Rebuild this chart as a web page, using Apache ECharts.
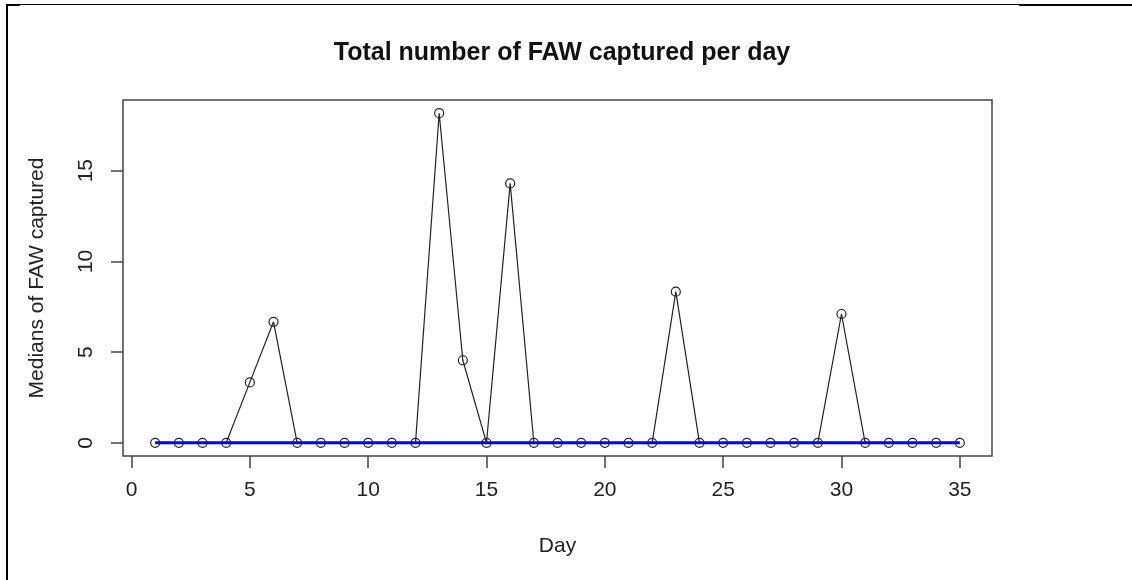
<!DOCTYPE html>
<html>
<head>
<meta charset="utf-8">
<title>Total number of FAW captured per day</title>
<script src="https://cdn.jsdelivr.net/npm/echarts@6/dist/echarts.min.js"></script>
<style>
  html, body { margin: 0; padding: 0; background: #fff; }
  #chart { width: 1132px; height: 580px; }
</style>
</head>
<body>
<div id="chart"></div>
<script>
// Trap counts: median number of FAW captured on each survey day
const days = [1,2,3,4,5,6,7,8,9,10,11,12,13,14,15,16,17,18,19,20,21,22,23,24,25,26,27,28,29,30,31,32,33,34,35];
const medians = [0,0,0,0,3.33,6.67,0,0,0,0,0,0,18.17,4.55,0,14.3,0,0,0,0,0,0,8.33,0,0,0,0,0,0,7.1,0,0,0,0,0];
// Reference line at zero over the whole survey period
const baseline = [0,0,0,0,0,0,0,0,0,0,0,0,0,0,0,0,0,0,0,0,0,0,0,0,0,0,0,0,0,0,0,0,0,0,0];
const xTicks = [0,5,10,15,20,25,30,35];
const yTicks = [0,5,10,15];

const chart = echarts.init(document.getElementById('chart'));
const font = 'Liberation Sans, Arial, sans-serif';

// R-style plotting range: data range padded by 4% on each side
function padded(lo, hi) {
  const d = (hi - lo) * 0.04;
  return [lo - d, hi + d];
}
const xr = padded(Math.min(...days), Math.max(...days));
const yr = padded(0, Math.max(...medians));

chart.setOption({
  backgroundColor: '#fff',
  animation: false,
  title: {
    text: 'Total number of FAW captured per day',
    left: 557, top: 36, textAlign: 'center',
    textStyle: { fontFamily: font, fontSize: 25, fontWeight: 'bold', color: '#111' }
  },
  grid: {
    left: 123, right: 140, top: 100, bottom: 124,
    outerBoundsMode: 'none',
    show: true, borderColor: '#444', borderWidth: 1.5, backgroundColor: 'transparent'
  },
  xAxis: {
    type: 'value', min: xr[0], max: xr[1],
    name: 'Day', nameLocation: 'middle', nameGap: 80,
    nameTextStyle: { fontFamily: font, fontSize: 21, color: '#222' },
    axisLine: { show: false, onZero: false },
    axisTick: { show: true, length: 12, customValues: xTicks, lineStyle: { color: '#444', width: 1.5 } },
    axisLabel: { customValues: xTicks, margin: 24, fontFamily: font, fontSize: 21, color: '#222' },
    splitLine: { show: false }
  },
  yAxis: {
    type: 'value', min: yr[0], max: yr[1],
    name: 'Medians of FAW captured', nameLocation: 'middle', nameGap: 75, nameRotate: 90,
    nameTextStyle: { fontFamily: font, fontSize: 21, color: '#222' },
    axisLine: { show: false, onZero: false },
    axisTick: { show: true, length: 12, customValues: yTicks, lineStyle: { color: '#444', width: 1.5 } },
    axisLabel: { customValues: yTicks, rotate: 90, margin: 26, fontFamily: font, fontSize: 21, color: '#222' },
    splitLine: { show: false }
  },
  series: [
    {
      type: 'line',
      data: days.map((d, i) => [d, medians[i]]),
      symbol: 'circle', symbolSize: 9,
      itemStyle: { color: 'rgba(0,0,0,0)', borderColor: '#222', borderWidth: 1.2 },
      lineStyle: { color: '#222', width: 1.2 },
      z: 2
    },
    {
      type: 'line',
      data: days.map((d, i) => [d, baseline[i]]),
      showSymbol: false,
      lineStyle: { color: '#0000ff', width: 3 },
      z: 3
    }
  ],
  graphic: [
    // frame around the figure
    { type: 'line', shape: { x1: 7, y1: 4, x2: 7, y2: 580 }, style: { stroke: '#000', lineWidth: 2 } },
    { type: 'line', shape: { x1: 6, y1: 4.5, x2: 1020, y2: 4.5 }, style: { stroke: '#000', lineWidth: 1 } },
    { type: 'line', shape: { x1: 6, y1: 5, x2: 20, y2: 5 }, style: { stroke: '#000', lineWidth: 2 } },
    { type: 'line', shape: { x1: 1019, y1: 5, x2: 1132, y2: 5 }, style: { stroke: '#000', lineWidth: 2 } }
  ]
});
</script>
</body>
</html>
